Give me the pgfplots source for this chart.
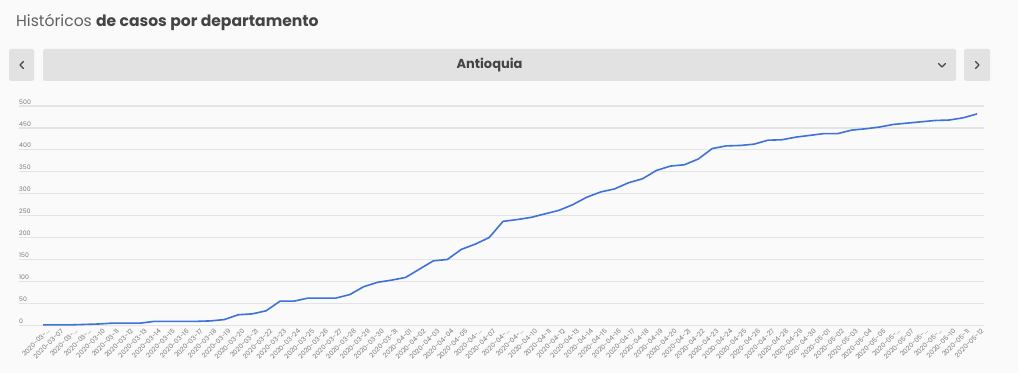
\documentclass[border=0pt]{standalone}
\usepackage{fontspec}
\setmainfont{Poppins}
\usepackage{pgfplots}
\pgfplotsset{compat=1.18}
\definecolor{panel}{HTML}{FAFAFA}
\definecolor{btn}{HTML}{E2E2E2}
\definecolor{gridc}{HTML}{E4E4E4}
\definecolor{linec}{HTML}{3F72D9}
\definecolor{titlec}{HTML}{444444}
\definecolor{tickc}{HTML}{7A7A7A}
\newcommand{\tr}{.{}.{}.}
\begin{document}
\begin{tikzpicture}
\begin{scope}[x=1pt,y=1pt]
% background
\fill[white] (0,0) rectangle (1024,380);
\fill[panel] (0,7.3) rectangle (1018,380);
% title
\node[anchor=base west,inner sep=0pt,text=titlec] at (16,353.3)
  {\fontsize{15.6}{18}\selectfont {\color{titlec!85!white}Históricos} \textbf{de casos por departamento}};
% selector bar
\fill[btn,rounded corners=2pt] (9,299) rectangle (34,331);
\fill[btn,rounded corners=2pt] (43,299) rectangle (956,331);
\fill[btn,rounded corners=2pt] (964,299) rectangle (990,331);
\draw[titlec,line width=1.3pt,line cap=round,line join=round] (23.5,318.5) -- (20,315) -- (23.5,311.5);
\draw[titlec,line width=1.3pt,line cap=round,line join=round] (975.5,318.5) -- (979,315) -- (975.5,311.5);
\draw[titlec,line width=1.3pt,line cap=round,line join=round] (938.5,316.5) -- (942,313) -- (945.5,316.5);
\node[text=titlec,inner sep=0pt] at (489.5,315) {\fontsize{13}{15}\selectfont\bfseries Antioquia};
\end{scope}
% chart
\begin{axis}[
  at={(43pt,54.7pt)}, anchor=origin,
  scale only axis, width=965pt, height=219.3pt,
  xmin=-1.72, xmax=67.5, ymin=0, ymax=500,
  axis line style={draw=none},
  major tick length=0pt,
  ymajorgrids, major grid style={gridc,line width=1.2pt},
  ytick={0,50,100,150,200,250,300,350,400,450,500},
  /pgf/number format/assume math mode=true,
  yticklabel style={anchor=south west,inner sep=0pt,yshift=1.7pt,text=tickc,font=\fontsize{6.2}{7}\selectfont},
  xtick={0,1,2,3,4,5,6,7,8,9,10,11,12,13,14,15,16,17,18,19,20,21,22,23,24,25,26,27,28,29,30,31,32,33,34,35,36,37,38,39,40,41,42,43,44,45,46,47,48,49,50,51,52,53,54,55,56,57,58,59,60,61,62,63,64,65,66,67},
  xticklabels={2020-03-\tr,2020-03-07,2020-03-\tr,2020-03-\tr,2020-03-10,2020-03-11,2020-03-12,2020-03-13,2020-03-14,2020-03-15,2020-03-16,2020-03-17,2020-03-18,2020-03-19,2020-03-20,2020-03-21,2020-03-22,2020-03-23,2020-03-24,2020-03-25,2020-03-26,2020-03-27,2020-03-28,2020-03-29,2020-03-30,2020-03-31,2020-04-01,2020-04-02,2020-04-03,2020-04-04,2020-04-05,2020-04-\tr,2020-04-07,2020-04-\tr,2020-04-\tr,2020-04-10,2020-04-11,2020-04-12,2020-04-13,2020-04-14,2020-04-15,2020-04-16,2020-04-17,2020-04-18,2020-04-19,2020-04-20,2020-04-21,2020-04-22,2020-04-23,2020-04-24,2020-04-25,2020-04-26,2020-04-27,2020-04-28,2020-04-29,2020-04-30,2020-05-01,2020-05-02,2020-05-03,2020-05-04,2020-05-05,2020-05-\tr,2020-05-07,2020-05-\tr,2020-05-\tr,2020-05-10,2020-05-11,2020-05-12},
  xticklabel style={rotate=45,anchor=east,inner sep=0pt,xshift=0.5pt,yshift=-7pt,text=tickc,font=\fontsize{6.6}{7}\selectfont},
  clip=false,
]
\addplot[linec,line width=1.6pt,line join=round] coordinates {
(0,1)(1,1)(2,1)(3,2)(4,3)(5,5)(6,5)(7,5)(8,9)(9,9)(10,9)(11,9)(12,10)(13,13)(14,24)(15,26)(16,33)(17,55)(18,55)(19,62)(20,62)(21,62)(22,70)(23,88)(24,98)(25,103)(26,109)(27,128)(28,147)(29,150)(30,173)(31,185)(32,200)(33,237)(34,241)(35,246)(36,254)(37,262)(38,275)(39,292)(40,304)(41,311)(42,325)(43,334)(44,353)(45,363)(46,366)(47,379)(48,403)(49,409)(50,410)(51,413)(52,422)(53,423)(54,429)(55,433)(56,437)(57,437)(58,445)(59,448)(60,452)(61,458)(62,461)(63,464)(64,467)(65,468)(66,473)(67,482)
};
\end{axis}
\pgfresetboundingbox
\path (0pt,0pt) rectangle (1024pt,380pt);
\end{tikzpicture}
\end{document}
